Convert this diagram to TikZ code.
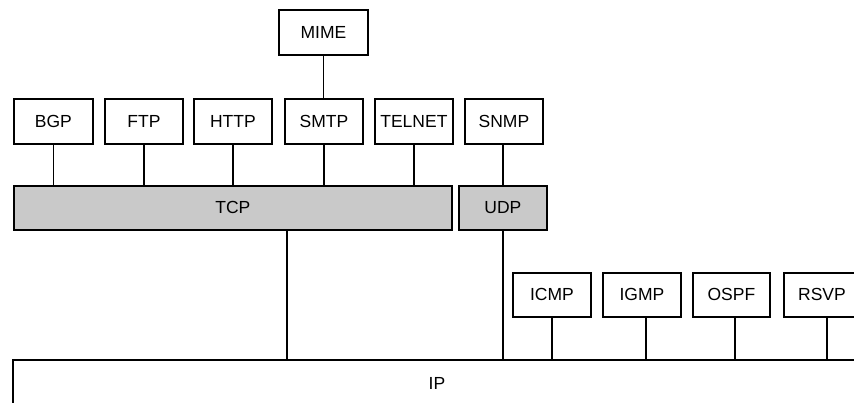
\documentclass[tikz,border=0pt]{standalone}
\usepackage{fontspec}
\setmainfont{Liberation Sans}
\begin{document}
\begin{tikzpicture}[x=1pt,y=-1pt,
  box/.style={draw, line width=1.8pt, minimum height=45pt, inner sep=0pt,
    anchor=north west, font=\fontsize{17.5}{20}\selectfont},
  shaded/.style={box, fill=black!21, minimum height=44pt},
  link/.style={line width=1.8pt}]
\useasboundingbox (0,0) rectangle (854,402);
\clip (0,0) rectangle (854,402);
% top
\node[box, minimum width=89pt] (mime) at (278,9) {MIME};
% application row
\node[box, minimum width=79pt] (bgp) at (13,98) {BGP};
\node[box, minimum width=78pt] (ftp) at (104,98) {FTP};
\node[box, minimum width=78pt] (http) at (193,98) {HTTP};
\node[box, minimum width=78pt] (smtp) at (284,98) {SMTP};
\node[box, minimum width=78pt] (telnet) at (374,98) {TELNET};
\node[box, minimum width=78pt] (snmp) at (464,98) {SNMP};
% transport
\node[shaded, minimum width=438pt] (tcp) at (13,185) {TCP};
\node[shaded, minimum width=88pt] (udp) at (458,185) {UDP};
% network-side protocols
\node[box, minimum width=78pt, minimum height=44pt] (icmp) at (512,272) {ICMP};
\node[box, minimum width=78pt, minimum height=44pt] (igmp) at (602,272) {IGMP};
\node[box, minimum width=77pt, minimum height=44pt] (ospf) at (692,272) {OSPF};
\node[box, minimum width=90pt, minimum height=44pt] (rsvp) at (783,272) {};
\node[font=\fontsize{17.5}{20}\selectfont] (rsvplabel) at (822,294) {RSVP};
% IP
\node[anchor=north west, minimum width=900pt, minimum height=60pt, inner sep=0pt] (ip) at (13,360) {};
\draw[link] (ip.south west) -- (ip.north west) -- (ip.north east);
\node[font=\fontsize{17.5}{20}\selectfont] (iplabel) at (437,383) {IP};
% x positions
\coordinate (xtcp) at (287,0);
\coordinate (xudp) at (503,0);
\coordinate (xigmp) at (646,0);
\coordinate (xospf) at (735,0);
\coordinate (xrsvp) at (827,0);
% connectors
\draw[link] (mime) -- (mime |- smtp.north);
\draw[link] (bgp) -- (bgp |- tcp.north);
\draw[link] (ftp) -- (ftp |- tcp.north);
\draw[link] (http) -- (http |- tcp.north);
\draw[link] (smtp) -- (smtp |- tcp.north);
\draw[link] (telnet) -- (telnet |- tcp.north);
\draw[link] (snmp.south -| xudp) -- (udp.north -| xudp);
\draw[link] (tcp.south -| xtcp) -- (ip.north -| xtcp);
\draw[link] (udp.south -| xudp) -- (ip.north -| xudp);
\draw[link] (icmp) -- (icmp |- ip.north);
\draw[link] (igmp.south -| xigmp) -- (ip.north -| xigmp);
\draw[link] (ospf.south -| xospf) -- (ip.north -| xospf);
\draw[link] (rsvp.south -| xrsvp) -- (ip.north -| xrsvp);
\end{tikzpicture}
\end{document}
